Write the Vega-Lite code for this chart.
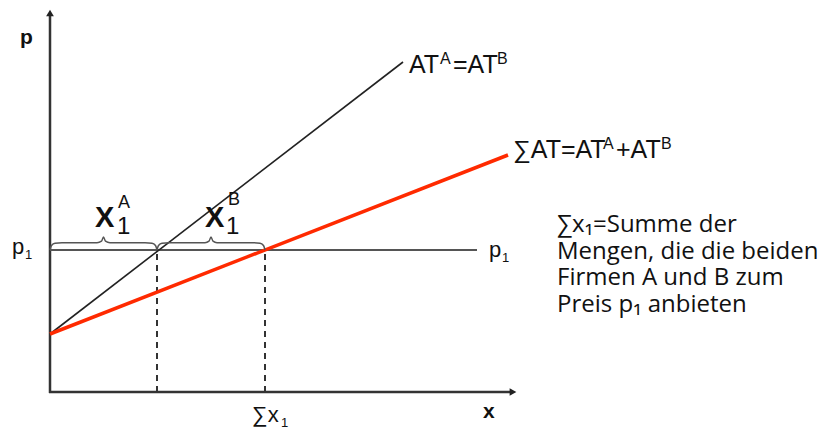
{
  "$schema": "https://vega.github.io/schema/vega-lite/v6.json",
  "width": 837,
  "height": 433,
  "padding": 0,
  "autosize": {"type": "none"},
  "background": "white",
  "config": {"view": {"stroke": null}},
  "encoding": {
    "x": {"field": "x", "type": "quantitative", "scale": {"domain": [-50, 787], "nice": false, "zero": false}, "axis": null},
    "y": {"field": "y", "type": "quantitative", "scale": {"domain": [-41, 392], "nice": false, "zero": false}, "axis": null}
  },
  "layer": [
    {
      "description": "axes",
      "data": {"values": [
        {"x": 0, "y": -1, "x2": 0, "y2": 378},
        {"x": -1, "y": 0, "x2": 462, "y2": 0}
      ]},
      "mark": {"type": "rule", "color": "#333333", "strokeWidth": 2.5},
      "encoding": {"x2": {"field": "x2"}, "y2": {"field": "y2"}}
    },
    {
      "description": "arrow heads",
      "data": {"values": [
        {"x": 0, "y": 379, "dir": "up"},
        {"x": 463, "y": 0, "dir": "right"}
      ]},
      "mark": {"type": "point", "filled": true, "color": "#222222", "opacity": 1, "size": 60},
      "encoding": {
        "shape": {"field": "dir", "type": "nominal", "scale": {"domain": ["up", "right"], "range": ["triangle-up", "triangle-right"]}, "legend": null}
      }
    },
    {
      "description": "price level p1",
      "data": {"values": [{"x": 0, "y": 142, "x2": 427}]},
      "mark": {"type": "rule", "color": "#555555", "strokeWidth": 2},
      "encoding": {"x2": {"field": "x2"}}
    },
    {
      "description": "quantities at p1",
      "data": {"values": [
        {"x": 107, "y": 0, "y2": 142},
        {"x": 215, "y": 0, "y2": 142}
      ]},
      "mark": {"type": "rule", "color": "#333333", "strokeWidth": 2, "strokeDash": [6, 5]},
      "encoding": {"y2": {"field": "y2"}}
    },
    {
      "description": "individual supply AT^A = AT^B",
      "data": {"values": [{"x": 0, "y": 58}, {"x": 353, "y": 330}]},
      "mark": {"type": "line", "color": "#222222", "strokeWidth": 1.6},
      "encoding": {}
    },
    {
      "description": "aggregate supply",
      "data": {"values": [{"x": 0, "y": 58}, {"x": 458, "y": 237}]},
      "mark": {"type": "line", "color": "#ff2a00", "strokeWidth": 3.5},
      "encoding": {}
    },
    {
      "description": "braces over x1A and x1B",
      "data": {"values": [
        {"b": "A", "x": 0, "y": 142}, {"b": "A", "x": 1.5, "y": 146.5}, {"b": "A", "x": 5, "y": 148.8}, {"b": "A", "x": 12, "y": 149.2},
        {"b": "A", "x": 47, "y": 149.2}, {"b": "A", "x": 51.5, "y": 150.8}, {"b": "A", "x": 53.5, "y": 155},
        {"b": "A", "x": 55.5, "y": 150.8}, {"b": "A", "x": 60, "y": 149.2}, {"b": "A", "x": 95, "y": 149.2},
        {"b": "A", "x": 102, "y": 148.8}, {"b": "A", "x": 105.5, "y": 146.5}, {"b": "A", "x": 107, "y": 142},
        {"b": "B", "x": 107, "y": 142}, {"b": "B", "x": 108.5, "y": 146.5}, {"b": "B", "x": 112, "y": 148.8}, {"b": "B", "x": 119, "y": 149.2},
        {"b": "B", "x": 155, "y": 149.2}, {"b": "B", "x": 159, "y": 150.8}, {"b": "B", "x": 161, "y": 155},
        {"b": "B", "x": 163, "y": 150.8}, {"b": "B", "x": 167, "y": 149.2}, {"b": "B", "x": 203, "y": 149.2},
        {"b": "B", "x": 210, "y": 148.8}, {"b": "B", "x": 213.5, "y": 146.5}, {"b": "B", "x": 215, "y": 142}
      ]},
      "mark": {"type": "line", "color": "#555555", "strokeWidth": 1.5, "interpolate": "monotone"},
      "encoding": {"detail": {"field": "b", "type": "nominal"}}
    },
    {
      "description": "curve labels",
      "data": {"values": [
        {"t": "AT", "x": 359, "y": 319},
        {"t": "=AT", "x": 403, "y": 319},
        {"t": "∑AT=AT", "x": 463, "y": 234},
        {"t": "+AT", "x": 566, "y": 234}
      ]},
      "mark": {"type": "text", "font": "Liberation Sans", "fontSize": 25, "align": "left", "baseline": "alphabetic", "color": "#111111"},
      "encoding": {"text": {"field": "t"}}
    },
    {
      "description": "curve label superscripts",
      "data": {"values": [
        {"t": "A", "x": 390, "y": 328},
        {"t": "B", "x": 447, "y": 328},
        {"t": "A", "x": 553, "y": 243},
        {"t": "B", "x": 611, "y": 243}
      ]},
      "mark": {"type": "text", "font": "Liberation Sans", "fontSize": 16, "align": "left", "baseline": "alphabetic", "color": "#111111"},
      "encoding": {"text": {"field": "t"}}
    },
    {
      "description": "p1 and sum labels",
      "data": {"values": [
        {"t": "p", "x": -38, "y": 138},
        {"t": "p", "x": 439, "y": 135},
        {"t": "∑x", "x": 202, "y": -30}
      ]},
      "mark": {"type": "text", "font": "Liberation Sans", "fontSize": 22, "align": "left", "baseline": "alphabetic", "color": "#111111"},
      "encoding": {"text": {"field": "t"}}
    },
    {
      "description": "subscripts",
      "data": {"values": [
        {"t": "1", "x": -25, "y": 133},
        {"t": "1", "x": 452, "y": 130},
        {"t": "1", "x": 231, "y": -35}
      ]},
      "mark": {"type": "text", "font": "Liberation Sans", "fontSize": 13, "align": "left", "baseline": "alphabetic", "color": "#111111"},
      "encoding": {"text": {"field": "t"}}
    },
    {
      "description": "axis titles",
      "data": {"values": [
        {"t": "p", "x": -30, "y": 348},
        {"t": "x", "x": 433, "y": -26}
      ]},
      "mark": {"type": "text", "font": "Liberation Sans", "fontSize": 21, "fontWeight": "bold", "align": "left", "baseline": "alphabetic", "color": "#111111"},
      "encoding": {"text": {"field": "t"}}
    },
    {
      "description": "X of x1A, x1B",
      "data": {"values": [
        {"t": "X", "x": 45, "y": 165},
        {"t": "X", "x": 155, "y": 165}
      ]},
      "mark": {"type": "text", "font": "Liberation Sans", "fontSize": 29, "fontWeight": "bold", "align": "left", "baseline": "alphabetic", "color": "#111111"},
      "encoding": {"text": {"field": "t"}}
    },
    {
      "description": "index 1 of x1A, x1B",
      "data": {"values": [
        {"t": "1", "x": 67, "y": 158},
        {"t": "1", "x": 176, "y": 158}
      ]},
      "mark": {"type": "text", "font": "Liberation Sans", "fontSize": 24, "align": "left", "baseline": "alphabetic", "color": "#111111"},
      "encoding": {"text": {"field": "t"}}
    },
    {
      "description": "firm letters of x1A, x1B",
      "data": {"values": [
        {"t": "A", "x": 68, "y": 184},
        {"t": "B", "x": 178, "y": 187}
      ]},
      "mark": {"type": "text", "font": "Liberation Sans", "fontSize": 18, "align": "left", "baseline": "alphabetic", "color": "#111111"},
      "encoding": {"text": {"field": "t"}}
    },
    {
      "description": "explanation",
      "data": {"values": [
        {"t": "∑x₁=Summe der", "x": 507, "y": 160},
        {"t": "Mengen, die die beiden", "x": 507, "y": 133.5},
        {"t": "Firmen A und B zum", "x": 507, "y": 107},
        {"t": "Preis p₁ anbieten", "x": 507, "y": 80.5}
      ]},
      "mark": {"type": "text", "font": "Open Sans", "fontSize": 24, "align": "left", "baseline": "alphabetic", "color": "#111111"},
      "encoding": {"text": {"field": "t"}}
    }
  ]
}
